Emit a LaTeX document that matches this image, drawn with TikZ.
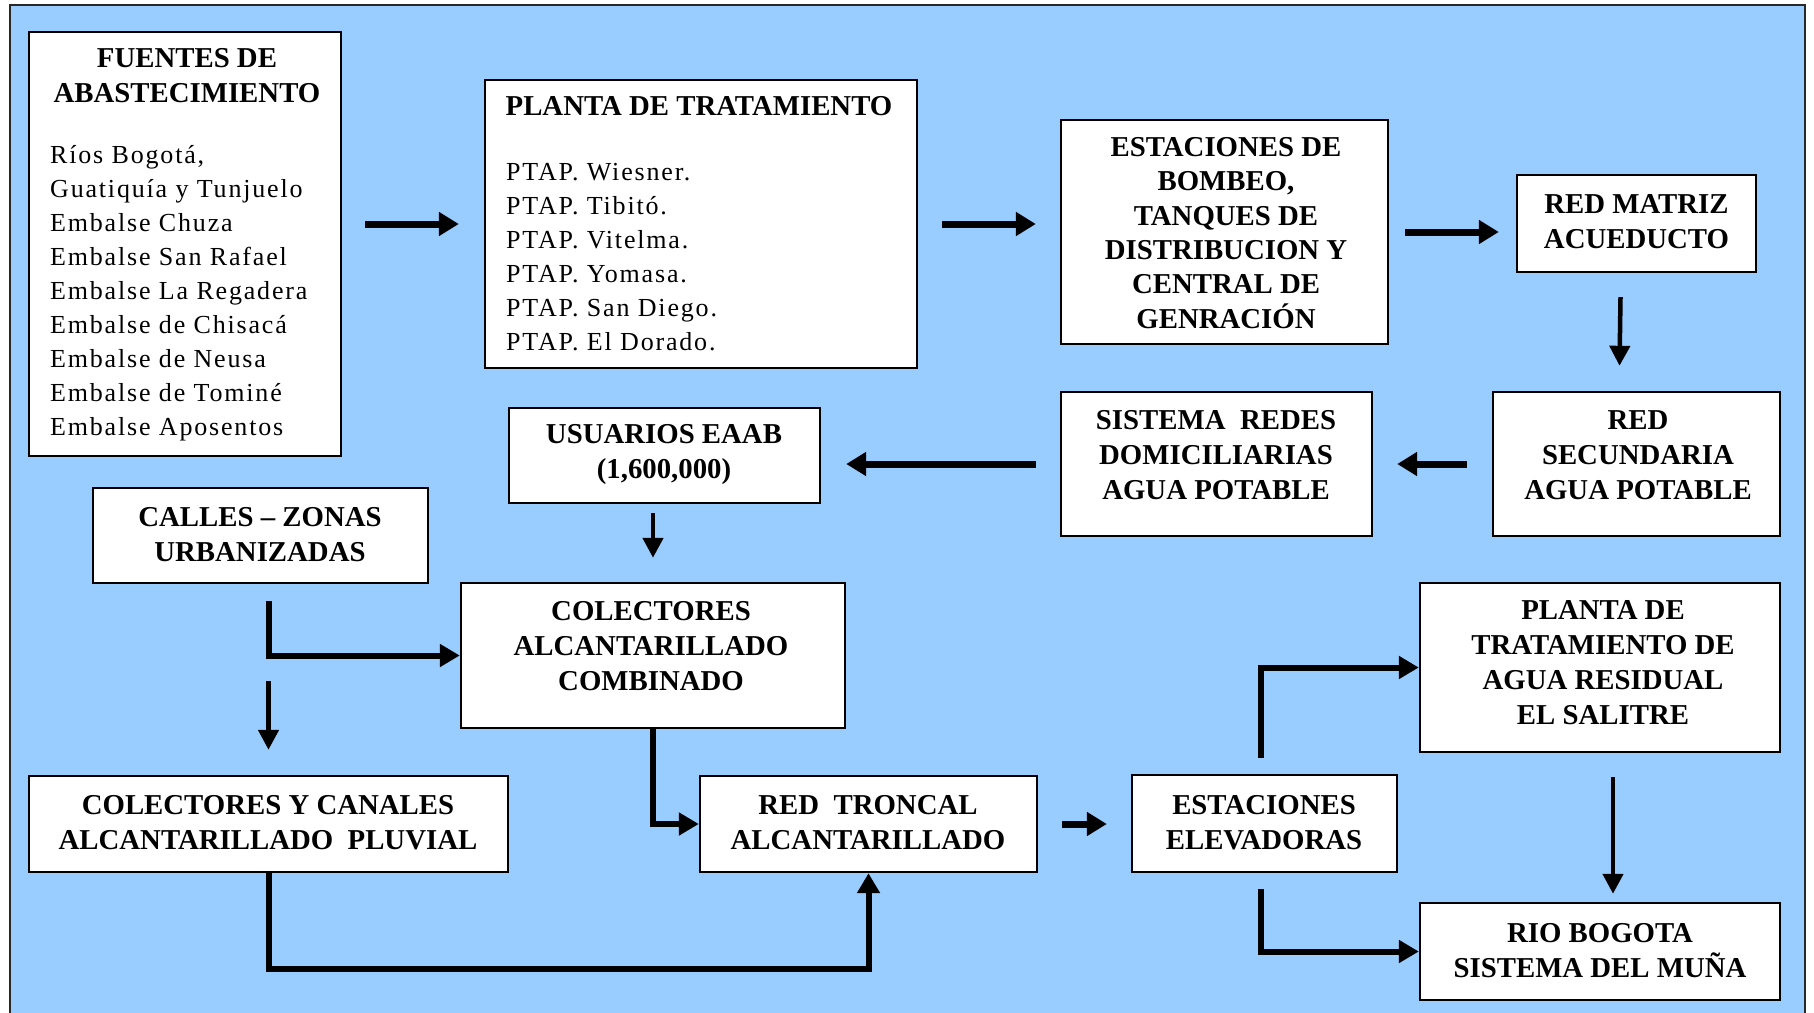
\documentclass[tikz,border=0pt]{standalone}
\usepackage{fontspec}
\setmainfont{Liberation Serif}
\newfontfamily\bodyfont[LetterSpace=7]{Liberation Serif}
\usetikzlibrary{arrows.meta,calc}
\definecolor{skyfill}{RGB}{153,204,255}
\definecolor{frameline}{RGB}{40,40,40}
\begin{document}
\begin{tikzpicture}[x=1pt,y=-1pt,
  box/.style={draw=black, line width=2.4pt, fill=white, inner sep=0pt},
  ttl/.style={font=\bfseries\fontsize{28.8}{35}\selectfont, align=center, inner sep=0pt},
  lst/.style={font=\bodyfont\fontsize{26}{34}\selectfont, align=left, inner sep=0pt, anchor=west},
  fat/.style={line width=7pt, -{Triangle[length=20pt,width=23pt]}},
  mid/.style={line width=6pt, -{Triangle[length=20pt,width=22pt]}},
  slim/.style={line width=4.5pt, -{Triangle[length=20pt,width=20pt]}},
]
\useasboundingbox (0,0) rectangle (1814,1012);
\fill[white] (0,0) rectangle (1814,1012);
\fill[skyfill] (10,5) rectangle (1805,1040);
\draw[frameline, line width=2.5pt] (10,1040) -- (10,5) -- (1805,5) -- (1805,1040);

% boxes
\node[box, minimum width=312, minimum height=424] (fuentes) at (185,244) {};
\node[box, minimum width=432, minimum height=288] (planta) at (701,224) {};
\node[box, minimum width=327, minimum height=224] (estb) at (1224.5,232) {};
\node[box, minimum width=239, minimum height=97] (redmatriz) at (1636.5,223.5) {};
\node[box, minimum width=287, minimum height=144] (redsec) at (1636.5,464) {};
\node[box, minimum width=311, minimum height=144] (sistema) at (1216.5,464) {};
\node[box, minimum width=311, minimum height=95] (usuarios) at (664.5,455.5) {};
\node[box, minimum width=335, minimum height=95] (calles) at (260.5,535.5) {};
\node[box, minimum width=384, minimum height=145] (colcomb) at (653,655.5) {};
\node[box, minimum width=479, minimum height=96] (colpluv) at (268.5,824) {};
\node[box, minimum width=337, minimum height=96] (troncal) at (868.5,824) {};
\node[box, minimum width=265, minimum height=97] (elev) at (1264.5,823.5) {};
\node[box, minimum width=360, minimum height=169] (ptar) at (1600,667.5) {};
\node[box, minimum width=360, minimum height=97] (rio) at (1600,951.5) {};

% texts
\node[ttl] (fuentes-t) at (187,76) {FUENTES DE\\ABASTECIMIENTO};
\node[lst] (fuentes-l) at (50,293.5) {Ríos Bogotá,\\Guatiquía y Tunjuelo\\Embalse Chuza\\Embalse San Rafael\\Embalse La Regadera\\Embalse de Chisacá\\Embalse de Neusa\\Embalse de Tominé\\Embalse Aposentos};
\node[ttl] (planta-t) at (699,106) {PLANTA DE TRATAMIENTO};
\node[lst] (planta-l) at (506,257) {PTAP. Wiesner.\\PTAP. Tibitó.\\PTAP. Vitelma.\\PTAP. Yomasa.\\PTAP. San Diego.\\PTAP. El Dorado.};
\node[ttl, font=\bfseries\fontsize{28.8}{34.3}\selectfont] (estb-t) at (1226,233) {ESTACIONES DE\\BOMBEO,\\TANQUES DE\\DISTRIBUCION Y\\CENTRAL DE\\GENRACIÓN};
\node[ttl] (redmatriz-t) at (1636.5,222) {RED MATRIZ\\ACUEDUCTO};
\node[ttl] (redsec-t) at (1638,455) {RED\\SECUNDARIA\\AGUA POTABLE};
\node[ttl] (sistema-t) at (1216,455) {SISTEMA \ REDES\\DOMICILIARIAS\\AGUA POTABLE};
\node[ttl] (usuarios-t) at (664,455) {USUARIOS EAAB\\(1,600,000)};
\node[ttl] (calles-t) at (260,535) {CALLES -- ZONAS\\URBANIZADAS};
\node[ttl] (colcomb-t) at (651,646) {COLECTORES\\ALCANTARILLADO\\COMBINADO};
\node[ttl] (colpluv-t) at (268,823) {COLECTORES Y CANALES\\ALCANTARILLADO \ PLUVIAL};
\node[ttl] (troncal-t) at (868,823) {RED \ TRONCAL\\ALCANTARILLADO};
\node[ttl] (elev-t) at (1264,823) {ESTACIONES\\ELEVADORAS};
\node[ttl] (ptar-t) at (1603,663) {PLANTA DE\\TRATAMIENTO DE\\AGUA RESIDUAL\\EL SALITRE};
\node[ttl] (rio-t) at (1600,951) {RIO BOGOTA\\SISTEMA DEL MUÑA};

% water supply chain
\draw[fat] ($(fuentes.east |- planta.west)+(23,0)$) -- ($(planta.west)+(-25,0)$);
\draw[fat] ($(planta.east)+(24,0)$) -- ($(estb.west |- planta.east)+(-24,0)$);
\draw[fat] ($(estb.east)+(16,0)$) -- ($(redmatriz.west |- estb.east)+(-17,0)$);
\draw[slim] ($(redmatriz.south)+(-16,24)$) -- ($(redsec.north)+(-17,-25)$);
\draw[fat] ($(redsec.west)+(-25,0)$) -- ($(sistema.east)+(24,0)$);
\draw[fat] ($(sistema.west)+(-24,0)$) -- ($(usuarios.east |- sistema.west)+(25,0)$);
\draw[slim] ($(colcomb.north |- usuarios.south)+(0,9)$) -- ($(colcomb.north)+(0,-24)$);

% drainage network
\draw[mid] ($(colpluv.north |- calles.south)+(0,17)$) |- (colcomb.west);
\draw[slim] ($(colpluv.north |- calles.south)+(0,97)$) -- ($(colpluv.north)+(0,-25)$);
\draw[mid] (colcomb.south) |- (troncal.west);
\draw[mid] (colpluv.south) -- ++(0,96) -| (troncal.south);
\draw[fat] ($(troncal.east)+(24,0)$) -- ($(elev.west |- troncal.east)+(-24,0)$);
\draw[mid] ($(elev.north)+(-4,-16)$) |- (ptar.west);
\draw[mid] ($(elev.south)+(-4,16)$) |- (rio.west);
\draw[slim] ($(ptar.south)+(13,24)$) -- ($(rio.north)+(13,-8)$);
\end{tikzpicture}
\end{document}
